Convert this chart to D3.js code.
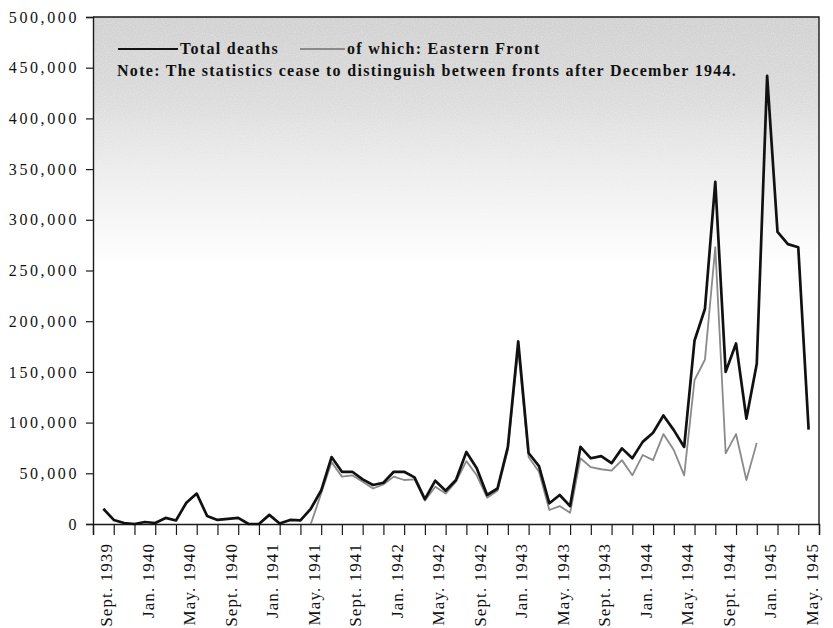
<!DOCTYPE html>
<html>
<head>
<meta charset="utf-8">
<script src="https://cdn.jsdelivr.net/npm/d3@7"></script>
<style>
  body { margin: 0; background: #fff; }
  svg { display: block; }
</style>
</head>
<body>
<svg id="chart" width="833" height="628"></svg>
<script>
// monthly deaths, Sept. 1939 .. May 1945 (69 months)
const totalDeaths = [
  15000, 4000, 1000, 0, 2000, 1000, 6000, 3500, 21000, 30000,
  8000, 4000, 5000, 6000, 0, 0, 9000, 500, 4000, 3500,
  15000, 33000, 66000, 51500, 51500, 44000, 38500, 40700, 51500, 51500,
  46000, 24600, 42700, 32800, 43400, 71000, 55000, 28600, 35000, 76000,
  180000, 70000, 57000, 20400, 28600, 17700, 76000, 64800, 67000, 60000,
  74600, 64800, 81000, 90000, 107000, 92600, 76000, 181000, 212000, 337500,
  150000, 178000, 104000, 158000, 442000, 288000, 276000, 273000, 93000
];

// of which: Eastern Front (no split before May 1941 or after Dec. 1944)
const easternFront = [
  null, null, null, null, null, null, null, null, null, null,
  null, null, null, null, null, null, null, null, null, null,
  0, 30000, 61000, 46700, 48000, 41700, 35000, 39000, 46700, 43400,
  44000, 23000, 36800, 30000, 41700, 62000, 48000, 26000, 32800, 73000,
  172000, 66000, 51600, 13800, 17700, 11000, 64800, 56000, 54000, 52600,
  63000, 48000, 68000, 63000, 88700, 73000, 48000, 142000, 162000, 273000,
  69700, 88700, 43400, 80000, null, null, null, null, null
];

const tickLabels = [
  "Sept. 1939", "Jan. 1940", "May. 1940", "Sept. 1940", "Jan. 1941", "May. 1941",
  "Sept. 1941", "Jan. 1942", "May. 1942", "Sept. 1942", "Jan. 1943", "May. 1943",
  "Sept. 1943", "Jan. 1944", "May. 1944", "Sept. 1944", "Jan. 1945", "May. 1945"
];

const yTicks = [0, 50000, 100000, 150000, 200000, 250000, 300000, 350000, 400000, 450000, 500000];

const svg = d3.select("#chart");
const width = +svg.attr("width");
const height = +svg.attr("height");
const margin = { top: 17, right: 14, bottom: 104, left: 93 };

const x = d3.scaleLinear()
  .domain([-1, totalDeaths.length])
  .range([margin.left, width - margin.right]);

const y = d3.scaleLinear()
  .domain([0, 500000])
  .range([height - margin.bottom, margin.top]);

// faded grey shading at the top of the plot (scan look)
const defs = svg.append("defs");
const grad = defs.append("linearGradient")
  .attr("id", "shade")
  .attr("gradientUnits", "userSpaceOnUse")
  .attr("x1", 0).attr("y1", margin.top)
  .attr("x2", 0).attr("y2", 265);
grad.append("stop").attr("offset", 0).attr("stop-color", "#d0d0d0");
grad.append("stop").attr("offset", 0.3).attr("stop-color", "#d9d9d9");
grad.append("stop").attr("offset", 0.65).attr("stop-color", "#eeeeee");
grad.append("stop").attr("offset", 1).attr("stop-color", "#ffffff");

// a little grain so the shading reads like the printed screen
const grain = defs.append("filter").attr("id", "grain");
grain.append("feTurbulence")
  .attr("type", "fractalNoise").attr("baseFrequency", 0.9).attr("numOctaves", 1).attr("seed", 3)
  .attr("result", "noise");
grain.append("feColorMatrix")
  .attr("in", "noise").attr("type", "matrix")
  .attr("values", "0 0 0 0 1  0 0 0 0 1  0 0 0 0 1  0 0 0 0.55 -0.2")
  .attr("result", "speck");
grain.append("feComposite").attr("in", "speck").attr("in2", "SourceGraphic").attr("operator", "in").attr("result", "clip");
grain.append("feMerge").selectAll("feMergeNode")
  .data(["SourceGraphic", "clip"]).join("feMergeNode").attr("in", d => d);

svg.append("rect")
  .attr("x", margin.left)
  .attr("y", margin.top)
  .attr("width", width - margin.right - margin.left)
  .attr("height", 250)
  .attr("fill", "url(#shade)")
  .attr("filter", "url(#grain)");

// frame top + right
svg.append("path")
  .attr("d", `M${margin.left},${margin.top}H${width - margin.right}V${height - margin.bottom}`)
  .attr("fill", "none")
  .attr("stroke", "#1a1a1a")
  .attr("stroke-width", 1.4);

// y axis
const yAxis = svg.append("g")
  .attr("transform", `translate(${margin.left},0)`)
  .call(d3.axisLeft(y).tickValues(yTicks).tickSize(7).tickPadding(7).tickFormat(d3.format(",")));
yAxis.select(".domain").attr("stroke", "#1a1a1a").attr("stroke-width", 1.4);
yAxis.selectAll(".tick line").attr("stroke", "#1a1a1a").attr("stroke-width", 1.2);
yAxis.selectAll(".tick text")
  .attr("font-family", "Liberation Serif, serif")
  .attr("font-size", 16)
  .attr("letter-spacing", "2.6px")
  .attr("fill", "#111");

// x axis: ticks between every other month
const xAxis = svg.append("g")
  .attr("transform", `translate(0,${height - margin.bottom})`)
  .call(d3.axisBottom(x).tickValues(d3.range(-1, totalDeaths.length + 1, 2)).tickSize(11).tickFormat(""));
xAxis.select(".domain").attr("stroke", "#1a1a1a").attr("stroke-width", 1.4);
xAxis.selectAll(".tick line").attr("stroke", "#1a1a1a").attr("stroke-width", 1.2);

// rotated month labels every 4 months
svg.append("g")
  .selectAll("text")
  .data(tickLabels)
  .join("text")
  .attr("transform", (d, i) => `translate(${x(i * 4) + 3},${height - margin.bottom + 19}) rotate(-90)`)
  .attr("text-anchor", "end")
  .attr("dy", "0.35em")
  .attr("font-family", "Liberation Serif, serif")
  .attr("font-size", 17)
  .attr("letter-spacing", "1.1px")
  .attr("fill", "#111")
  .text(d => d);

const line = d3.line()
  .defined(d => d != null)
  .x((d, i) => x(i))
  .y(d => y(d));

svg.append("path")
  .datum(easternFront)
  .attr("d", line)
  .attr("fill", "none")
  .attr("stroke", "#8a8a8a")
  .attr("stroke-width", 1.8)
  .attr("stroke-linejoin", "round");

svg.append("path")
  .datum(totalDeaths)
  .attr("d", line)
  .attr("fill", "none")
  .attr("stroke", "#111")
  .attr("stroke-width", 2.7)
  .attr("stroke-linejoin", "round");

// legend + note
const legend = svg.append("g")
  .attr("font-family", "Liberation Serif, serif")
  .attr("font-size", 16)
  .attr("font-weight", "bold")
  .attr("letter-spacing", "1.3px")
  .attr("fill", "#111");

legend.append("line")
  .attr("x1", 118).attr("x2", 178).attr("y1", 49).attr("y2", 49)
  .attr("stroke", "#111").attr("stroke-width", 2.2);
legend.append("text").attr("x", 180).attr("y", 54).text("Total deaths");

legend.append("line")
  .attr("x1", 300).attr("x2", 345).attr("y1", 49).attr("y2", 49)
  .attr("stroke", "#8a8a8a").attr("stroke-width", 1.8);
legend.append("text").attr("x", 347).attr("y", 54).text("of which: Eastern Front");

legend.append("text").attr("x", 117).attr("y", 76)
  .text("Note: The statistics cease to distinguish between fronts after December 1944.");
</script>
</body>
</html>
